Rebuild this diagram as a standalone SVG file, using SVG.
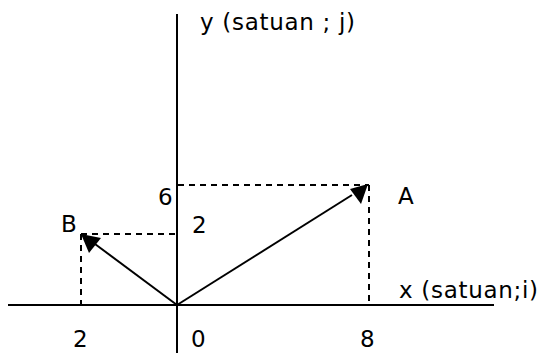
<svg xmlns="http://www.w3.org/2000/svg" width="543" height="353" viewBox="0 0 543 353">
<style>
.axis{stroke:#000;stroke-width:2;fill:none}
.vec{stroke:#000;stroke-width:2;fill:none}
.dash{stroke:#000;stroke-width:2;fill:none;stroke-dasharray:6,5}
text{font-family:"DejaVu Sans",Verdana,sans-serif;font-size:23px;letter-spacing:0.7px;fill:#000}
</style>
<g id="connectors">
<line class="axis" x1="8" y1="305" x2="494" y2="305"/>
<line class="axis" x1="177" y1="14" x2="177" y2="353"/>
<line class="dash" x1="178" y1="185" x2="369" y2="185"/>
<line class="dash" x1="369" y1="185" x2="369" y2="304"/>
<line class="dash" x1="81" y1="234" x2="176" y2="234"/>
<line class="dash" x1="81" y1="234" x2="81" y2="304"/>
<path class="vec" d="M177,305 L352,195"/>
<path class="vec" d="M177,305 L95,244"/>
<polygon points="368,184 361,204 350,189" fill="#000"/>
<polygon points="81,234 101,238 89,253" fill="#000"/>
</g>
<g id="labels">
<text x="200" y="30">y (satuan ; j)</text>
<text x="158" y="205">6</text>
<text x="192" y="233">2</text>
<text x="61" y="232">B</text>
<text x="398" y="204">A</text>
<text x="399" y="298">x (satuan;i)</text>
<text x="73" y="347">2</text>
<text x="191" y="347">0</text>
<text x="360" y="347">8</text>
</g>
</svg>
